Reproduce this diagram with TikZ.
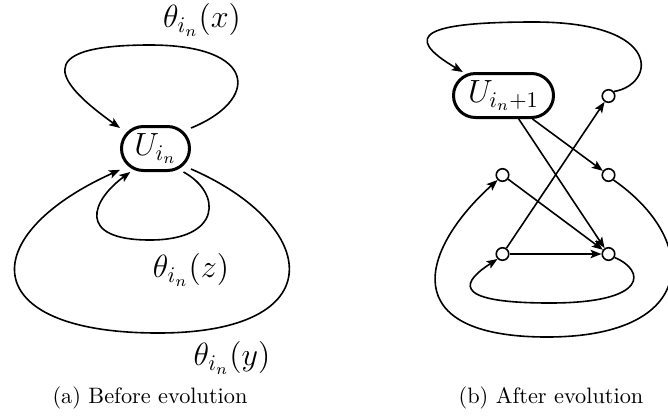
\documentclass[tikz,border=0pt]{standalone}
\usetikzlibrary{arrows.meta}
\begin{document}
\begin{tikzpicture}[x=1pt,y=-1pt,
  edge/.style={line width=1.6pt},
  arr/.style={edge,-{Stealth[length=11pt,width=8.5pt,inset=2.5pt]}},
  pill/.style={draw,line width=3pt,rounded corners=22pt,minimum height=44pt,inner sep=2pt},
  dot/.style={circle,draw,line width=1.6pt,minimum size=12.5pt,inner sep=0pt,fill=white},
  lbl/.style={font=\Large,scale=2.23},
  captxt/.style={font=\normalsize,scale=2.23}]
\useasboundingbox (0,0) rectangle (668,416);
\clip (0,0) rectangle (668,416);
% left panel
\node[pill,minimum width=68pt,font=\Large] (U) at (155.5,148.5) {\scalebox{2.23}{$U_{i_n}$}};
\draw[arr] (U.30) .. controls (260,100) and (258,45) .. (150,45) .. controls (25,45) and (60,85) .. (U.150);
\draw[arr] (U.-40) .. controls (222,193) and (222,240) .. (150,240) .. controls (75,240) and (92,200) .. (U.-137);
\draw[arr] (U.-30) .. controls (320,225) and (335,333) .. (158,333) .. controls (-25,333) and (-25,235) .. (U.211);
\node[lbl] (lx) at (202,20) {$\theta_{i_n}(x)$};
\node[lbl] (lz) at (191,270) {$\theta_{i_n}(z)$};
\node[lbl] (ly) at (232,358) {$\theta_{i_n}(y)$};
\node[captxt] (ca) at (150,398) {(a) Before evolution};
% right panel
\node[pill,minimum width=100pt,font=\Large] (V) at (503.5,95.5) {\scalebox{2.23}{$U_{i_n+1}$}};
\node[dot] (A) at (608.5,96) {};
\node[dot] (B) at (608.5,175) {};
\node[dot] (C) at (502.5,175) {};
\node[dot] (D) at (502.5,254) {};
\node[dot] (E) at (608.5,254) {};
\draw[arr] (A.40) .. controls (655,85) and (665,22) .. (534,22) .. controls (425,22) and (400,35) .. (V.150);
\draw[arr] (V.-39) -- (B);
\draw[arr] (V.-57) -- (E);
\draw[arr] (C) -- (E);
\draw[arr] (D) -- (E);
\draw[arr] (D) -- (A);
\draw[arr] (B.-45) .. controls (700,240) and (700,337) .. (547,337) .. controls (395,337) and (420,250) .. (C.225);
\draw[arr] (E.-30) .. controls (645,270) and (650,303) .. (550,303) .. controls (445,303) and (465,280) .. (D.225);
\node[captxt] (cb) at (551,398) {(b) After evolution};
\end{tikzpicture}
\end{document}
